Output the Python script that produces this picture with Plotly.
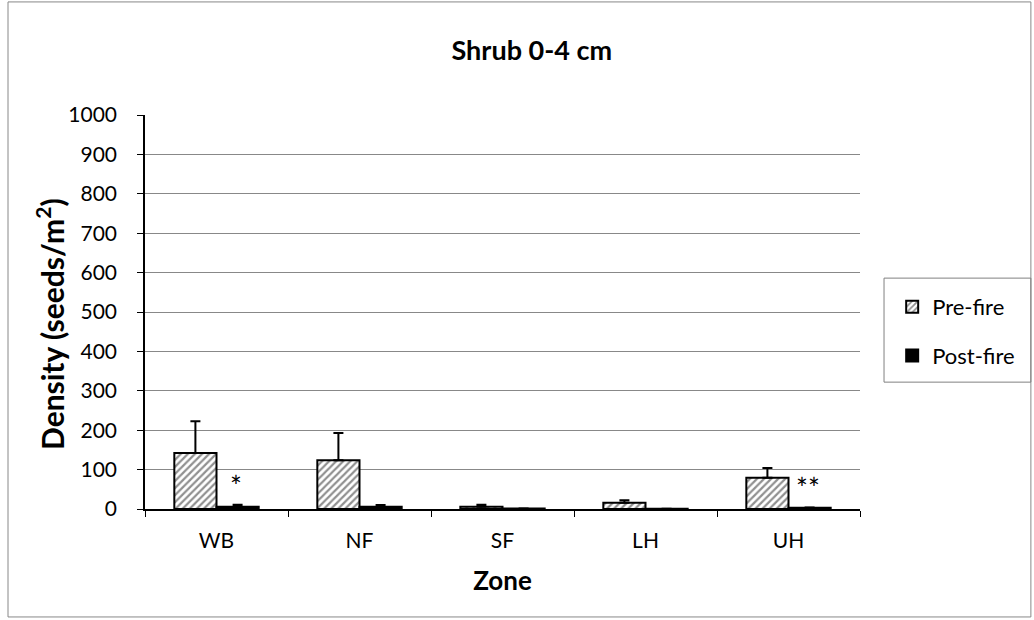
import plotly.graph_objects as go

zones = ["WB", "NF", "SF", "LH", "UH"]
pre_fire = [142, 124, 6, 16, 79]
pre_fire_err = [81, 69, 5, 6, 25]
post_fire = [6, 6, 1, 0.5, 3]
post_fire_err = [5, 4, 0, 0, 1]
y_ticks = [0, 100, 200, 300, 400, 500, 600, 700, 800, 900, 1000]
sig_marks = [("WB", "*"), ("UH", "**")]

FONT = "Lato, 'Open Sans', sans-serif"

fig = go.Figure()
fig.add_trace(go.Bar(
    name="Pre-fire", x=zones, y=pre_fire, legendgroup="pre",
    marker=dict(color="white", line=dict(color="black", width=2),
                pattern=dict(shape="/", fgcolor="#222222", bgcolor="white", size=5, solidity=0.45)),
    error_y=dict(type="data", symmetric=False, array=pre_fire_err, arrayminus=[0] * 5,
                 color="black", thickness=2, width=5),
))
fig.add_trace(go.Bar(
    name="Post-fire", x=zones, y=post_fire, legendgroup="post",
    marker=dict(color="black", line=dict(color="black", width=2)),
    error_y=dict(type="data", symmetric=False, array=post_fire_err, arrayminus=[0] * 5,
                 color="black", thickness=2, width=5),
))

# significance markers above the post-fire bars
for zone, mark in sig_marks:
    i = zones.index(zone)
    fig.add_annotation(x=zone, y=post_fire[i] + post_fire_err[i], text=mark,
                       xref="x", yref="y", xshift=19, yshift=19, showarrow=False,
                       font=dict(family=FONT, size=28, color="black"))

# y-axis title placed as a rotated annotation
fig.add_annotation(text="<b>Density (seeds/m<sup>2</sup>)</b>", textangle=-90,
                   xref="paper", yref="paper", x=-0.1329, y=0.4695,
                   xanchor="center", yanchor="middle", showarrow=False,
                   font=dict(family=FONT, size=30, color="black"))

fig.update_layout(
    width=1034, height=620,
    margin=dict(l=145, r=174, t=115, b=111),
    paper_bgcolor="white", plot_bgcolor="white",
    barmode="group", bargap=0.41, bargroupgap=0,
    font=dict(family=FONT, size=21, color="black"),
    title=dict(text="<b>Shrub 0-4 cm</b>", x=0.541, xref="paper", xanchor="center",
               y=0.919, yanchor="middle",
               font=dict(family=FONT, size=27, color="black")),
    legend=dict(x=1.045, y=0.566, xanchor="left", yanchor="top",
                borderwidth=0, bgcolor="rgba(0,0,0,0)",
                font=dict(family=FONT, size=22), tracegroupgap=17, itemsizing="constant",
                traceorder="grouped"),
    showlegend=True,
    shapes=[
        # chart-area border
        dict(type="rect", xref="paper", yref="paper", x0=-0.1916, x1=1.239, y0=-0.274, y1=1.287,
             line=dict(color="#888888", width=1)),
        # legend frame
        dict(type="rect", xref="paper", yref="paper", x0=1.0336, x1=1.239, y0=0.322, y1=0.586,
             line=dict(color="#808080", width=1)),
    ],
)
fig.update_xaxes(
    showline=True, linecolor="black", linewidth=1.5,
    ticks="outside", tickson="boundaries", ticklen=6, tickcolor="black",
    tickfont=dict(family=FONT, size=21), ticklabelstandoff=12,
    title=dict(text="<b>Zone</b>", font=dict(family=FONT, size=26), standoff=21),
)
fig.update_yaxes(
    range=[0, 1000], tickvals=y_ticks, ticks="outside", ticklen=6, tickcolor="black",
    showline=True, linecolor="black", linewidth=1.5,
    showgrid=True, gridcolor="#888888", gridwidth=1, zeroline=False,
    tickfont=dict(family=FONT, size=21), ticklabelstandoff=16,
)

fig.write_html("out.html")
